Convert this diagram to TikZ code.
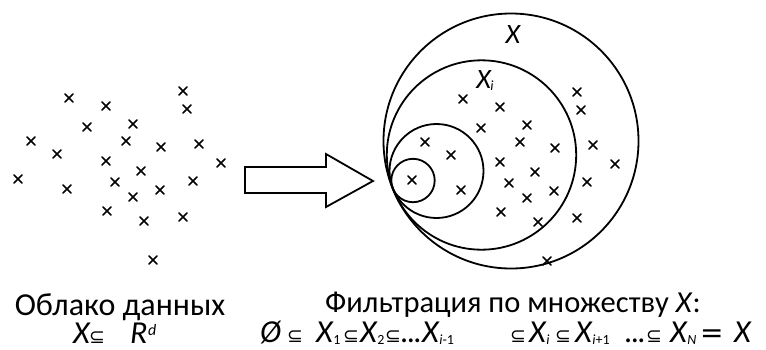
\documentclass[tikz,border=0pt]{standalone}
\usepackage{fontspec}
\setmainfont{Carlito}
\newfontfamily\symfont{DejaVu Sans}
\newcommand{\sbs}[1]{\kern-0.5pt\raisebox{-0.08em}{\fontsize{14}{14}\selectfont #1}}
\newcommand{\sbe}{{\symfont\fontsize{19}{19}\selectfont ⊆}}
\newcommand{\pc}[2]{\makebox[#1pt][l]{#2}}
\newcommand{\dts}{.\kern-1.5pt.\kern-1.5pt.}
\begin{document}
\begin{tikzpicture}[x=1pt,y=-1pt,
  circ/.style={draw=black,line width=1.8pt},
  crossln/.style={line width=1.7pt,line cap=round},
  lbl/.style={inner sep=0pt,anchor=base},
  frm/.style={inner sep=0pt,anchor=base west,font=\fontsize{32}{32}\selectfont},
  arrowshape/.style={draw=black,line width=1.8pt,fill=white,line join=miter}]
\useasboundingbox (0,0) rectangle (766,349);
% left cloud and the same points inside the circles
\foreach \px/\py in {69/98,106/106,183/91,187/109,87/127,133/124,31/141,126/141,161/147,199/144,57/154,106/161,221/163,141/171,18/179,115/182,193/181,67/189,160/190,133/197,107/211,144/221,183/217,153/260}{
  \draw[crossln] (\px-4,\py-4) -- (\px+4,\py+4) (\px-4,\py+4) -- (\px+4,\py-4);
  \draw[crossln] (\px+394-4,\py+1-4) -- (\px+394+4,\py+1+4) (\px+394-4,\py+1+4) -- (\px+394+4,\py+1-4);
}
% block arrow
\draw[arrowshape] (245,167) -- (326,167) -- (326,154) -- (373,181) -- (326,207) -- (326,193) -- (245,193) -- cycle;
% circles
\draw[circ] (511,141) circle (127.5pt);
\draw[circ] (481.5,155) circle (94.7pt);
\draw[circ] (436.5,171) circle (47pt);
\draw[circ] (413,180.5) circle (21.7pt);
% labels
\node[lbl,font=\fontsize{28}{28}\selectfont\itshape] (lx) at (513,43) {X};
\node[lbl,font=\fontsize{28}{28}\selectfont\itshape] (lxi) at (485,88) {X\sbs{i}};
\node[lbl,font=\fontsize{32}{32}\selectfont,text depth=0pt] (t1) at (120,315) {Облако данных};
\node[frm,text height=21pt] (f1) at (73,343) {\pc{16}{\textit{X}}\pc{41}{\sbe}\textit{R}\kern0.5pt\raisebox{8pt}{\fontsize{16}{16}\selectfont\itshape d}};
\node[lbl,font=\fontsize{30.5}{30.5}\selectfont,text depth=0pt] (t2) at (513,312) {Фильтрация по множеству \textit{X}:};
\node[frm,text height=21pt] (f2) at (260,342) {\pc{27}{\textit{Ø}}\pc{29}{\sbe}\pc{27}{\textit{X}\sbs{1}}\pc{17}{\sbe}\pc{25}{\textit{X}\sbs{2}}\pc{15}{\sbe}\pc{22}{\dts}\pc{88}{\textit{X}\sbs{\textit{i}-1}}\pc{19}{\sbe}\pc{26}{\textit{X}\sbs{\textit{i}}}\pc{20}{\sbe}\pc{49}{\textit{X}\sbs{\textit{i}+1}}\pc{22}{\dts}\pc{24}{\sbe}\pc{30}{\textit{X}\sbs{\textit{N}}}\pc{34}{{\symfont\fontsize{28}{28}\selectfont =}}\textit{X}};
\end{tikzpicture}
\end{document}
